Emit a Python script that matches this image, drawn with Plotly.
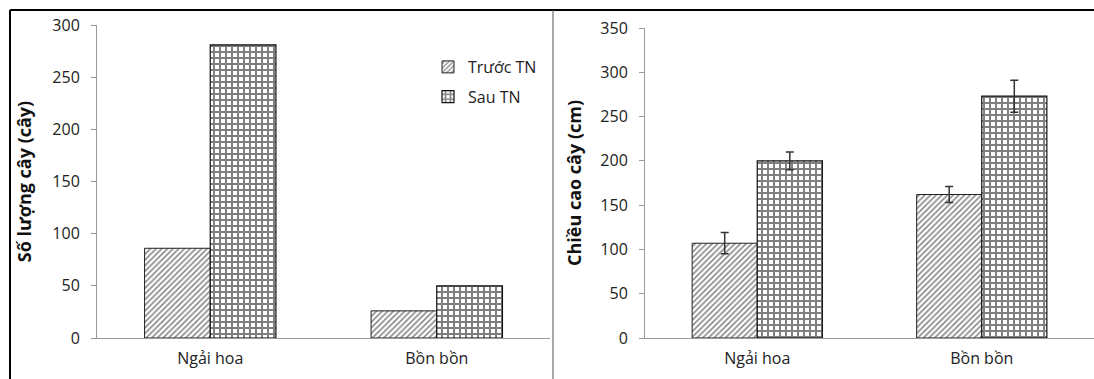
import plotly.graph_objects as go

categories = ["Ngải hoa", "Bồn bồn"]
series_names = ["Trước TN", "Sau TN"]

count_before = [86, 26]
count_after = [281, 50]

height_before = [107, 162]
height_after = [200, 273]
height_before_err = [12, 9]
height_after_err = [10, 18]

left_ticks = [0, 50, 100, 150, 200, 250, 300]
right_ticks = [0, 50, 100, 150, 200, 250, 300, 350]

W, H = 1094, 379
FONT = "Open Sans"

def px_x(p):
    return p / W

def px_y(p):
    return (H - p) / H

fig = go.Figure()

hatch = dict(shape="/", fgcolor="#111", bgcolor="white", size=4, solidity=0.4)
brick = dict(shape="+", fgcolor="#000", bgcolor="white", size=6, solidity=0.55)

fig.add_trace(go.Bar(
    x=categories, y=count_before, name=series_names[0], xaxis="x", yaxis="y",
    marker=dict(color="white", pattern=hatch, line=dict(color="#222", width=1)),
    legendgroup="a", showlegend=True, offsetgroup="1"))
fig.add_trace(go.Bar(
    x=categories, y=count_after, name=series_names[1], xaxis="x", yaxis="y",
    marker=dict(color="white", pattern=brick, line=dict(color="#111", width=1.2)),
    legendgroup="b", showlegend=True, offsetgroup="2"))

err_style = dict(type="data", thickness=1.5, width=4, color="#333")
fig.add_trace(go.Bar(
    x=categories, y=height_before, name=series_names[0], xaxis="x2", yaxis="y2",
    error_y=dict(array=height_before_err, **err_style),
    marker=dict(color="white", pattern=hatch, line=dict(color="#222", width=1)),
    legendgroup="a", showlegend=False, offsetgroup="1"))
fig.add_trace(go.Bar(
    x=categories, y=height_after, name=series_names[1], xaxis="x2", yaxis="y2",
    error_y=dict(array=height_after_err, **err_style),
    marker=dict(color="white", pattern=brick, line=dict(color="#111", width=1.2)),
    legendgroup="b", showlegend=False, offsetgroup="2"))

axis_font = dict(family=FONT, size=16, color="#222")
common_y = dict(showline=True, linecolor="#999", linewidth=1, ticks="outside",
                ticklen=5, tickcolor="#999", showgrid=False, zeroline=False,
                tickfont=axis_font, automargin=False, ticklabelstandoff=8)
common_x = dict(showline=True, linecolor="#999", linewidth=1, ticks="",
                showgrid=False, tickfont=axis_font, automargin=False,
                ticklabelstandoff=6)

fig.update_layout(
    width=W, height=H, autosize=False,
    margin=dict(l=0, r=0, t=0, b=0, pad=0),
    paper_bgcolor="white", plot_bgcolor="white",
    barmode="group", bargap=0.42, bargroupgap=0,
    font=dict(family=FONT, color="#222"),
    xaxis=dict(domain=[px_x(97), px_x(550)], anchor="y", **common_x),
    yaxis=dict(domain=[px_y(338), px_y(25)], range=[0, 300], tickvals=left_ticks,
               anchor="x",
               title=dict(text="Số lượng cây (cây)", standoff=16,
                          font=dict(family=FONT, size=18, color="#111", weight="bold")),
               **common_y),
    xaxis2=dict(domain=[px_x(645), 1.0], anchor="y2", **common_x),
    yaxis2=dict(domain=[px_y(338), px_y(28)], range=[0, 350], tickvals=right_ticks,
                anchor="x2",
                title=dict(text="Chiều cao cây (cm)", standoff=14,
                           font=dict(family=FONT, size=18, color="#111", weight="bold")),
                **common_y),
    legend=dict(x=px_x(428), y=px_y(50), xanchor="left", yanchor="top",
                bgcolor="rgba(0,0,0,0)", font=dict(family=FONT, size=16, color="#222"),
                itemwidth=30, tracegroupgap=6),
    shapes=[
        dict(type="line", xref="paper", yref="paper", x0=px_x(10), x1=1.0,
             y0=px_y(10), y1=px_y(10), line=dict(color="black", width=2)),
        dict(type="line", xref="paper", yref="paper", x0=px_x(10), x1=px_x(10),
             y0=0, y1=px_y(10), line=dict(color="black", width=2)),
        dict(type="line", xref="paper", yref="paper", x0=px_x(553), x1=px_x(553),
             y0=0, y1=px_y(10), line=dict(color="#555", width=1)),
    ],
)

fig.write_html("out.html", config={"displayModeBar": False},
               post_script="document.body.style.margin='0';document.body.style.overflow='hidden';")
